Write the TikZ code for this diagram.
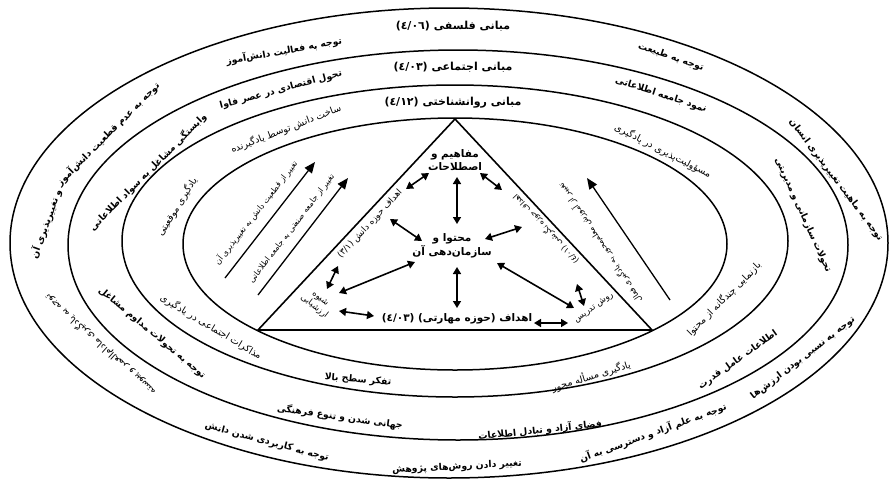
\documentclass[tikz,border=0pt]{standalone}
\usepackage{fontspec}
\newfontfamily\fa[Script=Arabic]{DejaVu Sans}
\TeXXeTstate=1
\usetikzlibrary{arrows.meta}
\newcommand\rtl[1]{\beginR #1\endR}
\newcommand\ltrn[1]{\beginL #1\endL{}}
\begin{document}
\begin{tikzpicture}[x=1pt,y=-1pt,
  ell/.style={line width=1.5pt},
  tri/.style={line width=1.6pt},
  dbl/.style={line width=1.6pt,{Triangle[length=7pt,width=8pt]}-{Triangle[length=7pt,width=8pt]}},
  sgl/.style={line width=1.3pt,-{Triangle[length=11pt,width=9pt]}},
  lbl/.style={font=\fa\fontsize{9.6}{11}\selectfont,inner sep=0pt},
  blbl/.style={font=\fa\bfseries\fontsize{9.3}{11}\selectfont,inner sep=0pt},
  slbl/.style={font=\fa\fontsize{8}{9}\selectfont,inner sep=0pt},
  hdr/.style={font=\fa\bfseries\fontsize{11}{13}\selectfont,inner sep=0pt},
  ctr/.style={font=\fa\bfseries\fontsize{10.5}{13.5}\selectfont,inner sep=0pt,align=center},
]
\useasboundingbox (0,0) rectangle (895,483);
\fill[white] (0,0) rectangle (895,483);
% ellipses
\draw[ell] (449,243) ellipse [x radius=439pt, y radius=235pt];
\draw[ell] (458,245) ellipse [x radius=390pt, y radius=195pt];
\draw[ell] (455,241) ellipse [x radius=333pt, y radius=156pt];
\draw[ell] (455,244) ellipse [x radius=272pt, y radius=126pt];
% triangle
\coordinate (ta) at (455,119);
\coordinate (tl) at (258,330);
\coordinate (tr) at (652,330);
\draw[tri,line join=miter] (ta) -- (tl) -- (tr) -- cycle;
% band 1
\node[hdr] (f1) at (453,26) {\rtl{مبانی فلسفی \ltrn{(٤/٠٦)}}};
\node[blbl,rotate=10] (f2) at (284,51) {\rtl{توجه به فعالیت دانش‌آموز}};
\node[blbl,rotate=-19] (f3) at (671,57) {\rtl{توجه به طبیعت}};
\node[blbl,rotate=45] (f4) at (108,134) {\rtl{توجه به عدم قطعیت دانش‌آموز}};
\node[blbl,rotate=70] (f5) at (46,224) {\rtl{و تغییرپذیری آن}};
\node[lbl,rotate=138] (f6) at (100,345) {\rtl{توجه به یادگیری مادام‌العمر و پیوسته}};
\node[blbl,rotate=-15] (f7) at (267,442) {\rtl{توجه به کاربردی شدن دانش}};
\node[blbl,rotate=3] (f8) at (457,467) {\rtl{تغییر دادن روش‌های پژوهش}};
\node[blbl,rotate=20] (f9) at (653,433) {\rtl{توجه به علم آزاد و دسترسی به آن}};
\node[blbl,rotate=37.5] (f10) at (803,358) {\rtl{توجه به نسبی بودن ارزش‌ها}};
\node[blbl,rotate=-53] (f11) at (836,180) {\rtl{توجه به ماهیت تغییرپذیری انسان}};
% band 2
\node[hdr] (s1) at (453,67) {\rtl{مبانی اجتماعی \ltrn{(٤/٠٣)}}};
\node[blbl,rotate=15] (s2) at (281,90) {\rtl{تحول اقتصادی در عصر فاوا}};
\node[blbl,rotate=-18] (s3) at (661,95) {\rtl{نمود جامعه اطلاعاتی}};
\node[blbl,rotate=45] (s4) at (148,172) {\rtl{وابستگی مشاغل به سواد اطلاعاتی}};
\node[blbl,rotate=-40] (s5) at (152,333) {\rtl{توجه به تحولات مداوم مشاغل}};
\node[blbl,rotate=-8] (s6) at (340,417) {\rtl{جهانی شدن و تنوع فرهنگی}};
\node[blbl,rotate=6] (s7) at (540,430) {\rtl{فضای آزاد و تبادل اطلاعات}};
\node[blbl,rotate=35.6] (s8) at (738,360) {\rtl{اطلاعات عامل قدرت}};
\node[blbl,rotate=-65.7] (s9) at (803,215) {\rtl{تحولات سازمانی و مدیریتی}};
% band 3
\node[hdr] (p1) at (453,103) {\rtl{مبانی روانشناختی \ltrn{(٤/١٢)}}};
\node[lbl,rotate=21] (p2) at (286,129) {\rtl{ساخت دانش توسط یادگیرنده}};
\node[lbl,rotate=-27] (p3) at (663,151) {\rtl{مسؤولیت‌پذیری در یادگیری}};
\node[lbl,rotate=58] (p4) at (177,207) {\rtl{یادگیری موقعیتی}};
\node[lbl,rotate=-31] (p5) at (211,327) {\rtl{مذاکرات اجتماعی در یادگیری}};
\node[blbl,rotate=-5] (p6) at (358,380) {\rtl{تفکر سطح بالا}};
\node[lbl,rotate=17] (p7) at (591,376) {\rtl{یادگیری مسأله محور}};
\node[lbl,rotate=45] (p8) at (724,299) {\rtl{بازنمایی چندگانه از محتوا}};
% inner arrows
\coordinate (u1) at (225,278); \coordinate (v1) at (315,162);
\coordinate (u2) at (258,295); \coordinate (v2) at (348,178);
\coordinate (u3) at (670,300); \coordinate (v3) at (587,178);
\draw[sgl] (u1) -- (v1);
\draw[sgl] (u2) -- (v2);
\draw[sgl] (u3) -- (v3);
\node[slbl,rotate=52] (q1) at (256,213) {\rtl{تغییر از قطعیت دانش به تغییرپذیری آن}};
\node[slbl,rotate=52.4] (q2) at (292,229) {\rtl{تغییر از جامعه صنعتی به جامعه اطلاعاتی}};
\node[slbl,rotate=124] (q3) at (600,243) {\rtl{تغییر از آموزش معلم‌محور به یادگیری فعال}};
% triangle texts
\node[ctr] (c1) at (455,160) {\rtl{مفاهیم و}\\\rtl{اصطلاحات}};
\node[ctr] (c2) at (452,246) {\rtl{محتوا و}\\\rtl{سازمان‌دهی آن}};
\node[ctr] (c3) at (457,319) {\rtl{اهداف (حوزه مهارتی) \ltrn{(٤/٠٣)}}};
\node[slbl,font=\fa\fontsize{8.5}{10}\selectfont,align=center,rotate=-38] (c4) at (317,303) {\rtl{شیوه}\\\rtl{ارزشیابی}};
\node[slbl,font=\fa\fontsize{8.5}{10}\selectfont,rotate=35] (c5) at (594,308) {\rtl{روش تدریس}};
\node[slbl,font=\fa\fontsize{8.8}{10}\selectfont,rotate=47] (c6) at (370,224) {\rtl{اهداف حوزه دانش \ltrn{(٣/١)}}};
\node[slbl,rotate=133] (c7) at (546,229) {\rtl{اهداف حوزه نگرشی \ltrn{(٤/٠١)}}};
% double arrows
\coordinate (a1) at (457,177); \coordinate (a2) at (457,224);
\coordinate (b1) at (457,267); \coordinate (b2) at (457,308);
\coordinate (d1) at (390,219); \coordinate (d2) at (422,241);
\coordinate (e1) at (485,239); \coordinate (e2) at (522,227);
\coordinate (g1) at (339,293); \coordinate (g2) at (415,262);
\coordinate (h1) at (497,263); \coordinate (h2) at (574,308);
\coordinate (i1) at (406,189); \coordinate (i2) at (429,173);
\coordinate (j1) at (480,173); \coordinate (j2) at (502,190);
\coordinate (k1) at (339,311); \coordinate (k2) at (374,316);
\coordinate (l1) at (534,323); \coordinate (l2) at (568,323);
\coordinate (m1) at (327,289); \coordinate (m2) at (338,266);
\coordinate (n1) at (577,284); \coordinate (n2) at (584,306);
\foreach \s/\t in {a1/a2,b1/b2,d1/d2,e1/e2,g1/g2,h1/h2,i1/i2,j1/j2,k1/k2,l1/l2,m1/m2,n1/n2}
  \draw[dbl] (\s) -- (\t);
\end{tikzpicture}
\end{document}
